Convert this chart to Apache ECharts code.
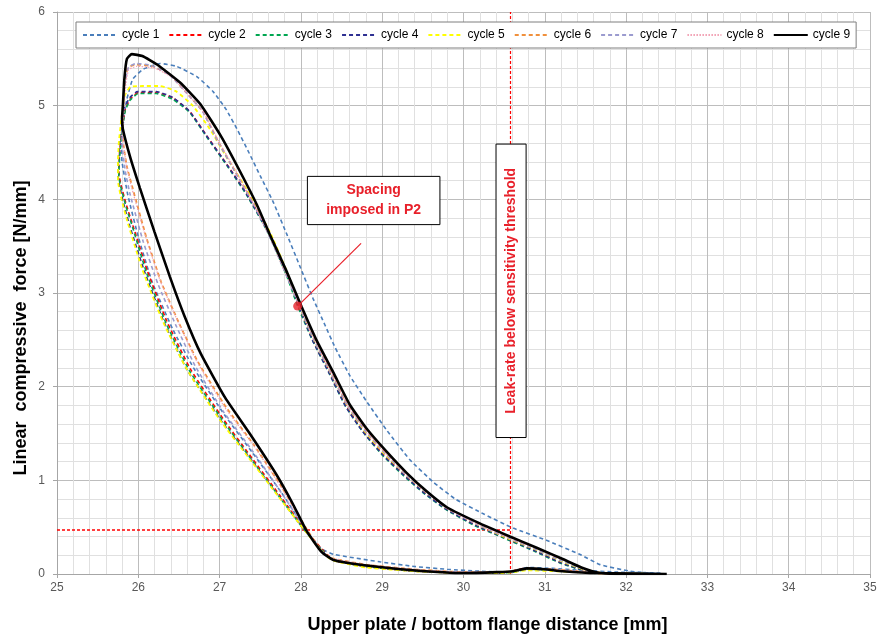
<!DOCTYPE html>
<html>
<head>
<meta charset="utf-8">
<script src="https://cdn.jsdelivr.net/npm/echarts@6/dist/echarts.min.js"></script>
<style>
html,body{margin:0;padding:0;background:#fff;}
#c{width:880px;height:639px;}
</style>
</head>
<body>
<div id="c"></div>
<script>
// ---- data (x = distance [mm], y = force [N/mm]) ----
const cycleNames = ['cycle 1','cycle 2','cycle 3','cycle 4','cycle 5','cycle 6','cycle 7','cycle 8','cycle 9'];
const xTicks = [25,26,27,28,29,30,31,32,33,34,35];
const yTicks = [0,1,2,3,4,5,6];

const cycle1 = [[32.45,0.0],[32.05,0.03],[31.68,0.1],[31.43,0.21],[31.02,0.36],[30.61,0.49],[30.25,0.64],[29.9,0.8],[29.63,0.98],[29.34,1.22],[29.06,1.53],[28.81,1.84],[28.6,2.12],[28.42,2.42],[28.3,2.65],[28.15,2.94],[27.99,3.28],[27.83,3.62],[27.66,3.97],[27.5,4.25],[27.36,4.5],[27.22,4.74],[27.08,4.96],[26.92,5.15],[26.72,5.31],[26.47,5.42],[26.27,5.45],[26.06,5.39],[25.93,5.28],[25.86,5.07],[25.82,4.85],
  [25.79,4.55],[25.8,4.4],[25.87,4.05],[26.0,3.6],[26.17,3.12],[26.42,2.62],[26.68,2.2],[27.06,1.7],[27.4,1.3],[27.76,0.87],[28.07,0.46],[28.25,0.27],[28.4,0.21],[28.97,0.13],[29.4,0.08],[29.8,0.05],[30.2,0.03],[30.53,0.02],[30.65,0.04],[30.78,0.07],[31.1,0.06],[31.43,0.04],[31.9,0.02],[32.45,0.01]];

const cycle2 = [[32.4,0.0],[32.0,0.0],[31.6,0.01],[31.2,0.12],[30.9,0.24],[30.5,0.39],[30.15,0.52],[29.8,0.69],[29.52,0.87],[29.27,1.06],[29.02,1.27],[28.77,1.52],[28.56,1.79],[28.36,2.14],[28.15,2.5],[27.97,2.86],[27.85,3.15],[27.62,3.62],[27.34,4.05],[27.1,4.36],[26.84,4.68],[26.64,4.93],[26.43,5.08],[26.23,5.14],[26.0,5.14],[25.9,5.07],[25.84,4.96],[25.8,4.75],[25.77,4.5],[25.76,4.3],
  [25.78,4.18],[25.85,3.95],[25.93,3.73],[26.11,3.24],[26.35,2.7],[26.64,2.19],[27.04,1.66],[27.37,1.27],[27.74,0.84],[28.07,0.45],[28.32,0.21],[28.42,0.14],[28.8,0.08],[29.4,0.03],[30.0,0.01],[30.45,0.01],[30.6,0.03],[30.75,0.06],[31.0,0.05],[31.3,0.03],[31.7,0.01],[32.4,0.0]];

const cycle3 = [[32.4,0.0],[31.95,0.0],[31.58,0.01],[31.18,0.12],[30.88,0.24],[30.48,0.39],[30.13,0.52],[29.78,0.69],[29.5,0.87],[29.25,1.06],[29.0,1.27],[28.76,1.52],[28.55,1.79],[28.35,2.14],[28.14,2.5],[27.96,2.86],[27.84,3.15],[27.61,3.62],[27.33,4.05],[27.09,4.36],[26.83,4.68],[26.63,4.93],[26.42,5.07],[26.22,5.13],[26.0,5.13],[25.9,5.06],[25.84,4.95],[25.8,4.72],[25.77,4.45],[25.76,4.25],
  [25.78,4.15],[25.85,3.92],[25.93,3.7],[26.1,3.22],[26.34,2.68],[26.63,2.17],[27.03,1.65],[27.36,1.26],[27.73,0.83],[28.06,0.45],[28.31,0.21],[28.42,0.14],[28.8,0.08],[29.4,0.03],[30.0,0.01],[30.45,0.01],[30.62,0.02],[30.78,0.05],[31.1,0.04],[31.4,0.02],[31.8,0.01],[32.4,0.0]];

const cycle4 = [[32.4,0.0],[31.98,0.0],[31.6,0.01],[31.2,0.12],[30.9,0.24],[30.5,0.39],[30.15,0.52],[29.79,0.69],[29.51,0.87],[29.26,1.06],[29.01,1.27],[28.76,1.52],[28.55,1.79],[28.35,2.14],[28.14,2.5],[27.97,2.87],[27.85,3.16],[27.61,3.63],[27.33,4.06],[27.09,4.37],[26.83,4.69],[26.63,4.94],[26.42,5.09],[26.22,5.15],[25.99,5.15],[25.89,5.08],[25.83,4.97],[25.79,4.74],[25.76,4.48],[25.75,4.28],
  [25.76,4.18],[25.82,3.95],[25.9,3.7],[26.08,3.22],[26.32,2.68],[26.6,2.18],[27.0,1.66],[27.35,1.26],[27.72,0.84],[28.06,0.45],[28.3,0.21],[28.41,0.14],[28.8,0.08],[29.4,0.03],[30.0,0.01],[30.45,0.01],[30.62,0.02],[30.78,0.05],[31.1,0.04],[31.4,0.02],[31.8,0.01],[32.4,0.0]];

const cycle5 = [[32.4,0.0],[32.0,0.0],[31.62,0.01],[31.22,0.13],[30.92,0.25],[30.52,0.39],[30.17,0.53],[29.81,0.7],[29.53,0.88],[29.28,1.07],[29.03,1.28],[28.78,1.53],[28.57,1.8],[28.37,2.14],[28.16,2.5],[27.98,2.86],[27.86,3.16],[27.63,3.63],[27.36,4.07],[27.12,4.4],[26.88,4.75],[26.67,5.0],[26.47,5.15],[26.27,5.21],[26.05,5.21],[25.9,5.2],[25.83,5.1],[25.79,4.85],[25.76,4.6],[25.75,4.4],[25.75,4.2],
  [25.78,4.05],[25.87,3.75],[26.05,3.25],[26.3,2.7],[26.6,2.18],[27.0,1.65],[27.35,1.25],[27.73,0.82],[28.07,0.44],[28.3,0.2],[28.41,0.14],[28.8,0.07],[29.4,0.03],[30.0,0.01],[30.45,0.01],[30.62,0.02],[30.78,0.04],[31.1,0.03],[31.4,0.02],[31.8,0.01],[32.4,0.0]];

const cycle6 = [[32.4,0.0],[32.0,0.0],[31.64,0.01],[31.22,0.15],[30.9,0.27],[30.55,0.39],[30.18,0.53],[29.8,0.7],[29.54,0.88],[29.29,1.07],[29.04,1.29],[28.79,1.54],[28.58,1.8],[28.38,2.14],[28.17,2.5],[27.99,2.86],[27.82,3.2],[27.61,3.62],[27.42,3.95],[27.19,4.3],[26.98,4.62],[26.8,4.93],[26.58,5.15],[26.4,5.32],[26.18,5.42],[25.96,5.44],[25.87,5.4],[25.83,5.2],[25.81,4.9],[25.81,4.65],
  [25.86,4.35],[25.93,4.12],[26.1,3.59],[26.28,3.12],[26.5,2.68],[26.73,2.27],[27.08,1.78],[27.42,1.38],[27.77,0.92],[28.07,0.48],[28.25,0.25],[28.38,0.17],[28.8,0.1],[29.4,0.05],[30.0,0.02],[30.45,0.02],[30.62,0.03],[30.78,0.06],[31.1,0.05],[31.4,0.03],[31.8,0.01],[32.4,0.0]];

const cycle7 = [[32.4,0.0],[32.0,0.0],[31.63,0.01],[31.21,0.14],[30.9,0.26],[30.54,0.39],[30.17,0.53],[29.8,0.7],[29.53,0.88],[29.28,1.07],[29.03,1.29],[28.78,1.54],[28.57,1.8],[28.37,2.14],[28.16,2.5],[27.98,2.86],[27.81,3.21],[27.6,3.63],[27.41,3.96],[27.18,4.31],[26.97,4.63],[26.79,4.94],[26.57,5.16],[26.38,5.33],[26.16,5.43],[25.97,5.45],[25.88,5.41],[25.83,5.22],[25.81,4.92],[25.8,4.6],
  [25.84,4.3],[25.9,4.05],[26.06,3.55],[26.24,3.1],[26.46,2.66],[26.7,2.22],[27.05,1.73],[27.4,1.32],[27.75,0.88],[28.07,0.46],[28.25,0.24],[28.38,0.16],[28.8,0.09],[29.4,0.04],[30.0,0.02],[30.45,0.02],[30.62,0.03],[30.78,0.05],[31.1,0.04],[31.4,0.03],[31.8,0.01],[32.4,0.0]];

const cycle8 = [[32.4,0.0],[32.0,0.0],[31.64,0.01],[31.22,0.15],[30.9,0.27],[30.55,0.39],[30.18,0.53],[29.8,0.7],[29.54,0.88],[29.29,1.07],[29.04,1.29],[28.79,1.54],[28.58,1.8],[28.38,2.14],[28.17,2.5],[27.99,2.86],[27.82,3.2],[27.61,3.62],[27.42,3.95],[27.2,4.3],[26.99,4.62],[26.81,4.92],[26.6,5.13],[26.42,5.3],[26.2,5.4],[25.98,5.42],[25.88,5.38],[25.84,5.18],[25.82,4.9],[25.81,4.68],
  [25.85,4.38],[25.92,4.12],[26.09,3.6],[26.27,3.13],[26.49,2.69],[26.72,2.27],[27.07,1.77],[27.42,1.37],[27.77,0.91],[28.07,0.47],[28.25,0.25],[28.38,0.17],[28.8,0.1],[29.4,0.05],[30.0,0.02],[30.45,0.02],[30.62,0.03],[30.78,0.06],[31.1,0.05],[31.4,0.03],[31.8,0.01],[32.4,0.0]];

const cycle9 = [[32.5,0.0],[32.0,0.0],[31.68,0.01],[31.45,0.07],[31.22,0.16],[30.9,0.28],[30.57,0.4],[30.2,0.54],[29.8,0.71],[29.55,0.88],[29.3,1.08],[29.06,1.3],[28.81,1.55],[28.6,1.81],[28.4,2.15],[28.19,2.5],[28.01,2.85],[27.83,3.22],[27.62,3.62],[27.46,3.94],[27.25,4.3],[27.02,4.67],[26.76,5.02],[26.51,5.25],[26.23,5.44],[26.05,5.53],[25.92,5.55],[25.86,5.5],[25.83,5.3],[25.81,5.0],[25.8,4.86],
  [25.81,4.75],[25.9,4.45],[26.02,4.12],[26.2,3.65],[26.39,3.17],[26.57,2.75],[26.77,2.35],[27.07,1.88],[27.37,1.5],[27.7,1.06],[27.9,0.75],[28.07,0.46],[28.25,0.24],[28.4,0.15],[28.81,0.09],[29.38,0.04],[30.0,0.01],[30.41,0.02],[30.61,0.03],[30.78,0.06],[31.0,0.05],[31.22,0.03],[31.64,0.01],[32.5,0.0]];

const spacingPoint = [[27.96,2.86]];
const leaderEnd = [28.74,3.53];
const leakThresholdX = 30.58;
const leakForceY = 0.475;

// ---- styles ----
const colors = ['#4a7ebb','#ff0000','#00a651','#2e3092','#ffff00','#f0903c','#9b9bcf','#f2a0b4','#000000'];
const dashes = [[4,3],[4,3],[4,3],[4,3],[4,3],[4,3],[4,3],[1.5,1.5],'solid'];
const widths = [1.6,1.6,1.6,1.6,1.8,1.8,1.6,1.2,2.6];
const cycles = [cycle1,cycle2,cycle3,cycle4,cycle5,cycle6,cycle7,cycle8,cycle9];

const red = '#e8202a';
const sans = "'Liberation Sans',Arial,sans-serif";

const series = cycles.map((d,i)=>({
  name: cycleNames[i], type:'line', data:d, symbol:'none', showSymbol:false,
  smooth:0.15, z: 3+i,
  lineStyle:{color:colors[i], width:widths[i], type:dashes[i]},
  itemStyle:{color:colors[i]}
}));

// reference lines (threshold) drawn as markLines in data coordinates
series.push({
  name:'threshold', type:'line', data:[], symbol:'none', silent:true, z:2,
  markLine:{
    silent:true, symbol:['none','none'], animation:false,
    label:{show:false},
    lineStyle:{color:'#ff0000', width:1.2, type:[3,2], opacity:1},
    emphasis:{disabled:true},
    data:[
      [{coord:[leakThresholdX,0]},{coord:[leakThresholdX,6]}],
      [{coord:[25,leakForceY], lineStyle:{color:'#ff0000', width:1.6, type:[3,2]}},{coord:[leakThresholdX,leakForceY]}]
    ]
  }
});
series.push({
  name:'leader', type:'line', symbol:'none', silent:true, z:20,
  data:[spacingPoint[0],leaderEnd],
  itemStyle:{color:red},
  lineStyle:{color:red, width:1.2}
});
series.push({
  name:'P2', type:'scatter', data:spacingPoint, symbolSize:9, z:21,
  itemStyle:{color:red}
});

const option = {
  animation:false,
  backgroundColor:'#ffffff',
  grid:{left:57, right:10, top:12, bottom:59, containLabel:false},
  legend:{
    data:cycleNames, left:76, top:22, orient:'horizontal',
    itemWidth:34, itemHeight:10, itemGap:9,
    padding:[7,6,7,6],
    backgroundColor:'#ffffff', borderColor:'#7f7f7f', borderWidth:1,
    itemStyle:{color:'rgba(0,0,0,0)', borderWidth:0, opacity:0},
    textStyle:{fontFamily:sans, fontSize:12, color:'#000'},
    z:30
  },
  xAxis:{
    type:'value', min:xTicks[0], max:xTicks[xTicks.length-1], interval:1,
    name:'Upper plate / bottom flange distance [mm]', nameLocation:'middle', nameGap:42,
    nameTextStyle:{fontFamily:sans, fontWeight:'bold', fontSize:18, color:'#000', padding:[0,0,0,48]},
    axisLine:{show:true, lineStyle:{color:'#a6a6a6', width:1}},
    axisTick:{show:true, length:4, inside:false, lineStyle:{color:'#a6a6a6'}},
    axisLabel:{fontFamily:sans, fontSize:12, color:'#595959', margin:8},
    splitLine:{show:true, lineStyle:{color:'#bdbdbd', width:1}},
    minorTick:{show:false, splitNumber:5},
    minorSplitLine:{show:true, lineStyle:{color:'#e0e0e0', width:1}}
  },
  yAxis:{
    type:'value', min:yTicks[0], max:yTicks[yTicks.length-1], interval:1,
    axisLine:{show:true, lineStyle:{color:'#a6a6a6', width:1}},
    axisTick:{show:true, length:4, lineStyle:{color:'#a6a6a6'}},
    axisLabel:{fontFamily:sans, fontSize:12, color:'#595959', margin:12},
    splitLine:{show:true, lineStyle:{color:'#bdbdbd', width:1}},
    minorTick:{show:false, splitNumber:5},
    minorSplitLine:{show:true, lineStyle:{color:'#e0e0e0', width:1}}
  },
  series:series
};

const chart = echarts.init(document.getElementById('c'), null, {renderer:'canvas'});
chart.setOption(option);

// annotation boxes anchored in data coordinates
const layout = {
  spacingBox:[[28.08,4.245],[29.71,3.73]],
  leakBox:[[30.40,4.59],[30.77,1.457]]
};
const px = (p)=>chart.convertToPixel({gridIndex:0}, p);
const a1 = px(layout.spacingBox[0]), b1 = px(layout.spacingBox[1]);
const a2 = px(layout.leakBox[0]), b2 = px(layout.leakBox[1]);
chart.setOption({
  graphic:[
    {type:'rect', z:40, shape:{x:a1[0], y:a1[1], width:b1[0]-a1[0], height:b1[1]-a1[1]},
     style:{fill:'#fff', stroke:'#000', lineWidth:1}},
    {type:'text', z:41, x:(a1[0]+b1[0])/2, y:(a1[1]+b1[1])/2,
     style:{text:'Spacing\nimposed in P2', fill:red, font:"bold 14px "+sans, align:'center', verticalAlign:'middle', lineHeight:20}},
    {type:'rect', z:40, shape:{x:a2[0], y:a2[1], width:b2[0]-a2[0], height:b2[1]-a2[1]},
     style:{fill:'#fff', stroke:'#000', lineWidth:1}},
    {type:'text', z:41, x:(a2[0]+b2[0])/2, y:(a2[1]+b2[1])/2, rotation:Math.PI/2,
     style:{text:'Leak-rate below sensitivity threshold', fill:red, font:"bold 14px "+sans, align:'center', verticalAlign:'middle'}},
    {type:'text', z:41, x:21, y:328, rotation:Math.PI/2,
     style:{text:'Linear  compressive  force [N/mm]', fill:'#000', font:"bold 18px "+sans, align:'center', verticalAlign:'middle'}}
  ]
});
</script>
</body>
</html>
